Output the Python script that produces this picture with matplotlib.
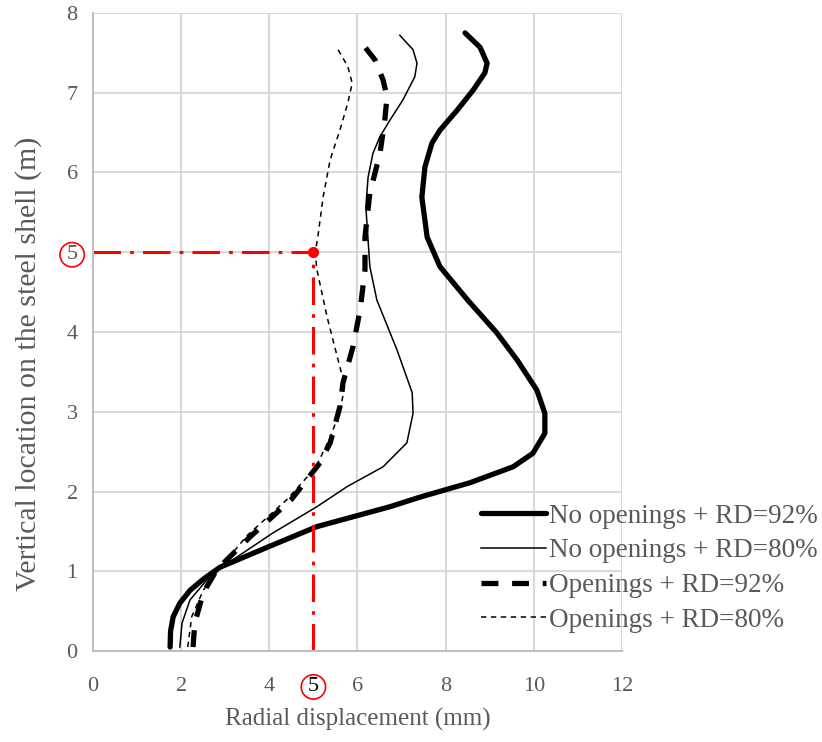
import matplotlib
matplotlib.use("Agg")
import matplotlib.pyplot as plt

plt.rcParams['font.family'] = ['Liberation Serif', 'DejaVu Serif']

# 数据: 径向位移 (mm) 与 竖向位置 (m)
y_no92 = [0.05, 0.25, 0.43, 0.60, 0.76, 0.90, 1.05, 1.30, 1.56, 1.81, 1.93, 2.11, 2.31, 2.48,
          2.73, 2.98, 3.27, 3.65, 3.99, 4.40, 4.82, 5.19, 5.69, 6.07, 6.37, 6.53, 6.78, 7.03,
          7.25, 7.37, 7.57, 7.75]
x_no92 = [1.75, 1.76, 1.82, 1.97, 2.20, 2.50, 2.88, 3.95, 5.08, 6.74, 7.42, 8.55, 9.53, 9.98,
          10.25, 10.25, 10.07, 9.62, 9.16, 8.50, 7.87, 7.58, 7.46, 7.53, 7.69, 7.87, 8.26, 8.62,
          8.89, 8.94, 8.78, 8.44]

y_no80 = [0.05, 0.35, 0.64, 0.98, 1.18, 1.48, 1.81, 2.06, 2.31, 2.61, 2.98, 3.24, 3.77, 4.40,
          4.82, 5.57, 5.94, 6.24, 6.45, 6.66, 6.91, 7.20, 7.37, 7.54, 7.72]
x_no80 = [1.97, 2.02, 2.20, 2.72, 3.27, 4.08, 5.08, 5.76, 6.58, 7.12, 7.26, 7.24, 6.90, 6.44,
          6.28, 6.19, 6.24, 6.35, 6.51, 6.74, 7.03, 7.30, 7.35, 7.26, 6.96]

y_op92 = [0.05, 0.35, 0.73, 1.02, 1.43, 1.90, 2.36, 2.61, 3.06, 3.36, 3.82, 4.28, 4.78, 5.19,
          5.74, 6.24, 6.66, 6.95, 7.16, 7.41, 7.60]
x_op92 = [2.27, 2.31, 2.50, 2.81, 3.56, 4.50, 5.15, 5.38, 5.60, 5.67, 5.90, 6.06, 6.17, 6.17,
          6.28, 6.51, 6.62, 6.67, 6.58, 6.40, 6.13]

y_op80 = [0.05, 0.43, 0.76, 1.02, 1.45, 1.90, 2.30, 2.70, 3.05, 3.36, 3.52, 4.19, 4.78, 4.99,
          5.19, 5.69, 6.16, 6.53, 6.87, 7.12, 7.33, 7.54]
x_op80 = [2.15, 2.24, 2.50, 2.85, 3.50, 4.40, 5.05, 5.40, 5.62, 5.72, 5.62, 5.31, 5.08, 5.04,
          5.10, 5.22, 5.38, 5.60, 5.78, 5.88, 5.78, 5.56]

labels = ['No openings + RD=92%', 'No openings + RD=80%',
          'Openings + RD=92%', 'Openings + RD=80%']

x_ticks = [0, 2, 4, 6, 8, 10, 12]
y_ticks = [0, 1, 2, 3, 4, 5, 6, 7, 8]
mark_x, mark_y = 5, 5

fig = plt.figure(figsize=(8.22, 7.42), dpi=100)
ax = fig.add_axes([0.1131, 0.1226, 0.6436, 0.8599])

grid_c = '#d9d9d9'
tick_c = '#595959'

ax.plot(x_no92, y_no92, color='black', lw=3.8, solid_capstyle='round', solid_joinstyle='round',
        label=labels[0])
ax.plot(x_no80, y_no80, color='black', lw=1.1, solid_joinstyle='round', label=labels[1])
ax.plot(x_op92, y_op92, color='black', lw=3.8, linestyle=(0, (3.2, 2.6)), label=labels[2])
ax.plot(x_op80, y_op80, color='black', lw=1.1, linestyle=(0, (3.5, 3)), label=labels[3])

# 红色标注线
red_ls = (0, (9, 3, 1.2, 3))
ax.plot([0, mark_x], [mark_y, mark_y], color='red', lw=2.2, linestyle=red_ls)
ax.plot([mark_x, mark_x], [0, mark_y], color='red', lw=2.2, linestyle=red_ls)
ax.plot([mark_x], [mark_y], 'o', color='red', ms=7)

ax.set_xlim(0, 12)
ax.set_ylim(0, 8)
ax.set_xticks(x_ticks)
ax.set_yticks(y_ticks)
ax.grid(True, color=grid_c, lw=1.5)
ax.set_axisbelow(True)
ax.tick_params(length=0, labelsize=16, labelcolor=tick_c)
ax.tick_params(axis='x', pad=19)
ax.tick_params(axis='y', pad=11)
for s in ['top', 'right']:
    ax.spines[s].set_visible(False)
for s in ['left', 'bottom']:
    ax.spines[s].set_color('#bfbfbf')
    ax.spines[s].set_linewidth(1.5)

# 圈出刻度 5
circ = dict(boxstyle='circle,pad=0.12', fc='none', ec='red', lw=1.2)
for lab in ax.get_yticklabels():
    if lab.get_text() == str(mark_y):
        lab.set_bbox(circ)
ax.annotate(str(mark_x), xy=(mark_x, 0), xycoords=('data', 'axes fraction'),
            xytext=(0, -19), textcoords='offset points', ha='center', va='top',
            fontsize=16, color='black', bbox=circ)

ax.set_xlabel('Radial displacement (mm)', fontsize=18, color=tick_c, labelpad=8)
ax.set_ylabel('Vertical location on the steel shell (m)', fontsize=21.5, color=tick_c)
ax.yaxis.set_label_coords(-0.097, 0.45)

leg = fig.legend(loc='upper left', bbox_to_anchor=(0.556, 0.354), frameon=False,
                 fontsize=19.5, handlelength=2.4, handletextpad=0.1, labelspacing=0.36,
                 labelcolor=tick_c)

fig.savefig('out.png', dpi=100)
